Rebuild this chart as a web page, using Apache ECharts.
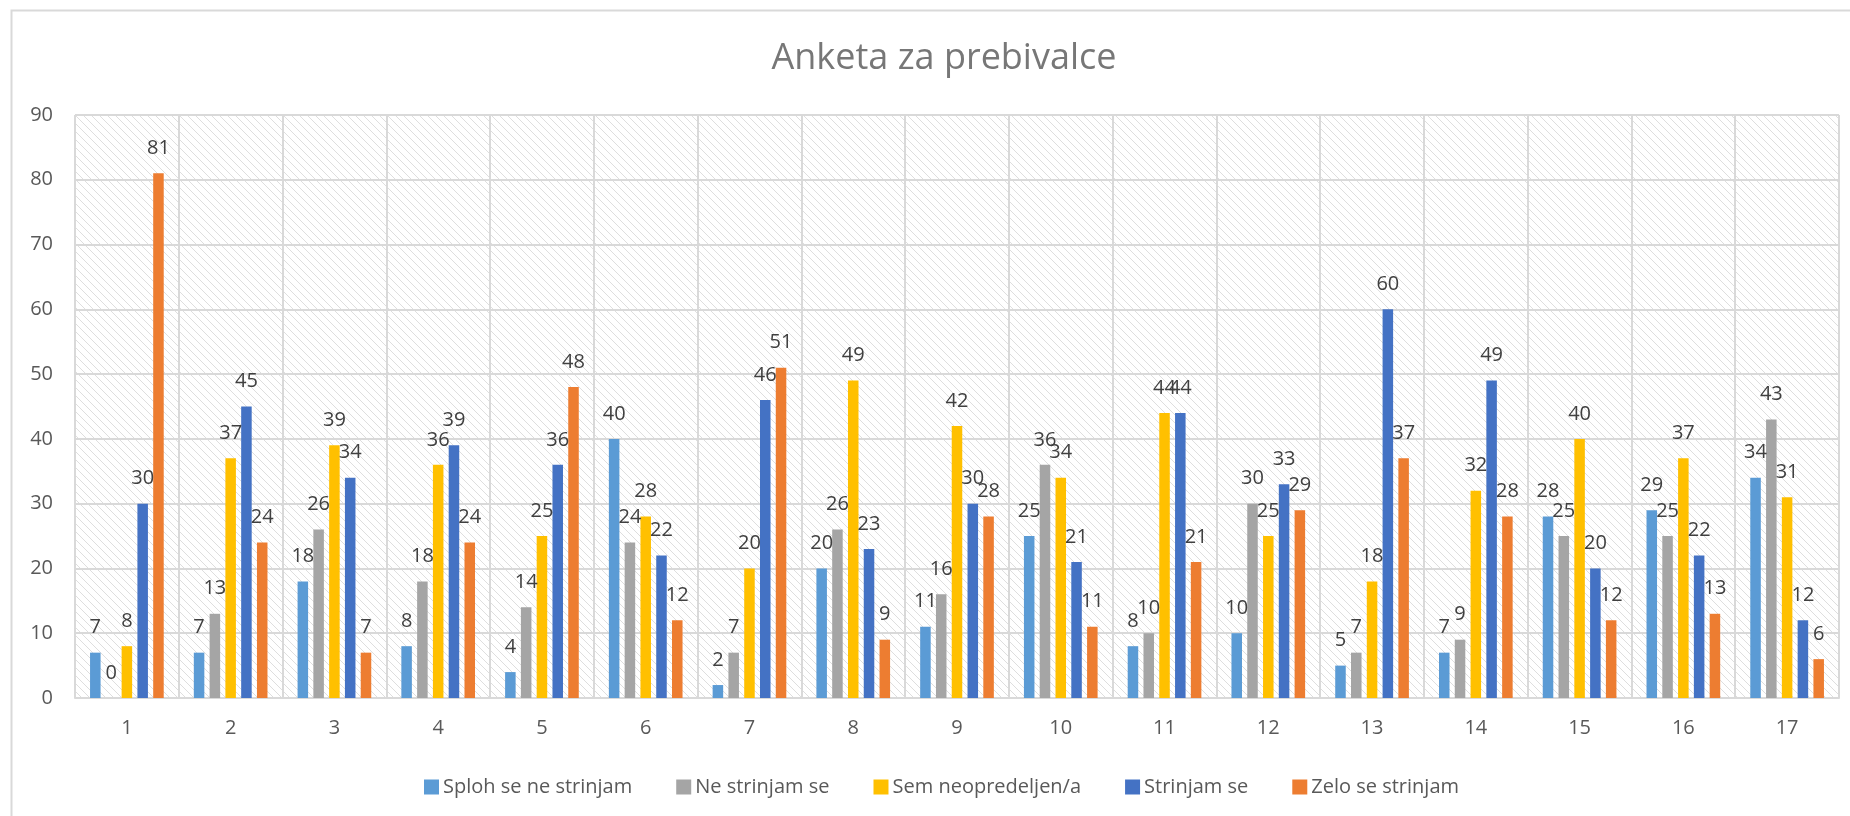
<!DOCTYPE html>
<html>
<head>
<meta charset="utf-8">
<script src="https://cdn.jsdelivr.net/npm/echarts@6/dist/echarts.min.js"></script>
<style>
  html, body { margin: 0; padding: 0; background: #fff; }
  #chart { width: 1850px; height: 816px; }
</style>
</head>
<body>
<div id="chart"></div>
<script>
const categories = ['1','2','3','4','5','6','7','8','9','10','11','12','13','14','15','16','17'];
const seriesNames = ['Sploh se ne strinjam', 'Ne strinjam se', 'Sem neopredeljen/a', 'Strinjam se', 'Zelo se strinjam'];
const splohSeNeStrinjam = [7, 7, 18, 8, 4, 40, 2, 20, 11, 25, 8, 10, 5, 7, 28, 29, 34];
const neStrinjamSe      = [0, 13, 26, 18, 14, 24, 7, 26, 16, 36, 10, 30, 7, 9, 25, 25, 43];
const semNeopredeljen   = [8, 37, 39, 36, 25, 28, 20, 49, 42, 34, 44, 25, 18, 32, 40, 37, 31];
const strinjamSe        = [30, 45, 34, 39, 36, 22, 46, 23, 30, 21, 44, 33, 60, 49, 20, 22, 12];
const zeloSeStrinjam    = [81, 24, 7, 24, 48, 12, 51, 9, 28, 11, 21, 29, 37, 28, 12, 13, 6];
const yTicks = { min: 0, max: 90, interval: 10 };
const titleText = 'Anketa za prebivalce';

const colors = ['#5B9BD5', '#A5A5A5', '#FFC000', '#4472C4', '#ED7D31'];
const seriesData = [splohSeNeStrinjam, neStrinjamSe, semNeopredeljen, strinjamSe, zeloSeStrinjam];
const FONT = 'Open Sans';

// hatch pattern for plot background
const tile = document.createElement('canvas');
tile.width = 8; tile.height = 8;
const tc = tile.getContext('2d');
tc.fillStyle = '#ffffff';
tc.fillRect(0, 0, 8, 8);
tc.strokeStyle = '#dedede';
tc.lineWidth = 1;
tc.beginPath();
tc.moveTo(-1, -1); tc.lineTo(9, 9);
tc.moveTo(-1, 7); tc.lineTo(1, 9);
tc.moveTo(7, -1); tc.lineTo(9, 1);
tc.stroke();

const chart = echarts.init(document.getElementById('chart'), null, { renderer: 'canvas' });

const series = seriesNames.map((name, i) => ({
  name: name,
  type: 'bar',
  data: seriesData[i],
  itemStyle: { color: colors[i] },
  barGap: '50%',
  barCategoryGap: '29%',
  label: {
    show: true,
    position: 'top',
    distance: 15,
    fontFamily: FONT,
    fontSize: 20,
    color: '#404040'
  },
  animation: false
}));

chart.setOption({
  animation: false,
  backgroundColor: '#ffffff',
  title: {
    text: titleText,
    left: 939,
    top: 36,
    textAlign: 'center',
    textStyle: { fontFamily: FONT, fontSize: 36, fontWeight: 'normal', color: '#777777' }
  },
  legend: {
    data: seriesNames,
    left: 419,
    top: 772,
    itemWidth: 15,
    itemHeight: 15,
    itemGap: 44,
    icon: 'rect',
    textStyle: { fontFamily: FONT, fontSize: 20, color: '#595959', padding: [0, 0, 0, -1] }
  },
  grid: {
    left: 75, right: 11, top: 115, bottom: 118,
    show: true,
    borderWidth: 0,
    backgroundColor: { image: tile, repeat: 'repeat' }
  },
  xAxis: {
    type: 'category',
    data: categories,
    axisTick: { show: false },
    axisLine: { lineStyle: { color: '#d9d9d9', width: 2 } },
    axisLabel: { fontFamily: FONT, fontSize: 20, color: '#595959', margin: 20 },
    splitLine: { show: true, lineStyle: { color: '#d9d9d9', width: 2 } }
  },
  yAxis: {
    type: 'value',
    min: yTicks.min,
    max: yTicks.max,
    interval: yTicks.interval,
    axisLine: { show: false },
    axisTick: { show: false },
    axisLabel: { fontFamily: FONT, fontSize: 20, color: '#595959', margin: 22 },
    splitLine: { show: true, lineStyle: { color: '#d9d9d9', width: 2 } }
  },
  graphic: [{
    type: 'rect',
    silent: true,
    z: -10,
    shape: { x: 11.5, y: 10.5, width: 1900, height: 900 },
    style: { fill: 'none', stroke: '#d9d9d9', lineWidth: 2 }
  }],
  series: series
});
</script>
</body>
</html>
